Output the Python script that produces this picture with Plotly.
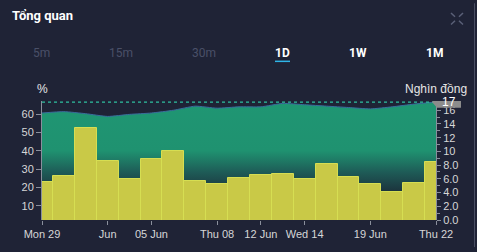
import plotly.graph_objects as go

# ---- data ----
x_idx = list(range(19))
tick_pos = [0, 3, 5, 8, 10, 12, 15, 18]
tick_labels = ["Mon 29", "Jun", "05 Jun", "Thu 08", "12 Jun", "Wed 14", "19 Jun", "Thu 22"]
pct_values = [23.2, 26.4, 52.3, 34.6, 24.6, 35.4, 39.7, 23.7, 21.7, 25.1,
              26.7, 27.2, 24.6, 32.7, 25.6, 21.7, 17.5, 22.2, 34.1]
price_values = [15.6, 15.8, 15.5, 15.1, 15.4, 15.6, 16.0, 16.6, 16.3, 16.5,
                16.5, 17.0, 16.8, 16.6, 16.4, 16.2, 16.5, 16.9, 17.2]
price_label = "17"
left_ticks = [10, 20, 30, 40, 50, 60]
right_ticks = [0, 2, 4, 6, 8, 10, 12, 14, 16]
right_ticktext = ["0.0", "2.0", "4.0", "6.0", "8.0", "10", "12", "14", "16"]
buttons = ["5m", "15m", "30m", "1D", "1W", "1M"]
button_px = [41, 121, 204, 282, 358, 434]
button_active = [False, False, False, True, True, True]

BG = "#1f2336"
W, H = 477, 252
L, R, T, B = 42, 436, 101, 224

def px(xp):
    return (xp - L) / (R - L)

def py(yp):
    return (B - yp) / (B - T)

fig = go.Figure()

fig.add_trace(go.Scatter(
    x=x_idx, y=price_values, yaxis="y", mode="lines",
    line=dict(color="#3a6c9c", width=1, shape="spline", smoothing=0.5),
    fill="tozeroy",
    fillgradient=dict(type="vertical", start=0, stop=17.2,
                      colorscale=[[0, "#1b2a36"], [0.25, "#1b2f3a"],
                                  [0.42, "#1e5a56"], [0.6, "#1f9270"], [1, "#1f9673"]]),
    hoverinfo="skip", showlegend=False,
))

fig.add_trace(go.Bar(
    x=x_idx, y=pct_values, yaxis="y2", width=1,
    marker=dict(color="#c9c947", line=dict(color="#d6de52", width=1)),
    hoverinfo="skip", showlegend=False,
))

tickfont = dict(family="Liberation Sans, Arial, sans-serif", size=11, color="#d6d6d6")

fig.update_layout(
    width=W, height=H,
    margin=dict(l=L, r=W - R, t=T, b=H - B, pad=0),
    paper_bgcolor=BG, plot_bgcolor=BG,
    bargap=0,
    xaxis=dict(range=[0, 18], tickmode="array", tickvals=tick_pos, ticktext=tick_labels,
               showgrid=False, zeroline=False, showline=False,
               ticks="outside", ticklen=4, tickcolor="#8a8f9c", tickfont=tickfont),
    yaxis=dict(side="right", range=[0, 17.35], tickmode="array", tickvals=right_ticks,
               ticktext=right_ticktext, showgrid=False, zeroline=False,
               showline=True, linecolor="#8a8f9c", linewidth=1,
               ticks="outside", ticklen=4, tickcolor="#8a8f9c", tickfont=tickfont,
               minor=dict(dtick=1, ticks="outside", ticklen=3, tickcolor="#8a8f9c")),
    yaxis2=dict(side="left", overlaying="y", range=[2.2, 67.2], tickmode="array",
                tickvals=left_ticks, showgrid=False, zeroline=False,
                showline=True, linecolor="#8a8f9c", linewidth=1,
                ticks="outside", ticklen=5, tickcolor="#8a8f9c", tickfont=tickfont),
)

# dotted last-price line
last_price = price_values[-1]
fig.add_shape(type="line", xref="paper", yref="y", x0=0, x1=1, y0=last_price, y1=last_price,
              line=dict(color="#2fc0a0", width=1.2, dash="dot"))

# price label marker (pentagon)
hh = 0.85
fig.add_shape(type="path", xref="paper", yref="y",
              path=f"M {px(432)},{last_price} L {px(437)},{last_price+hh} L {px(461)},{last_price+hh} "
                   f"L {px(461)},{last_price-hh} L {px(437)},{last_price-hh} Z",
              fillcolor="#8c8c8c", line=dict(width=0), layer="above")
fig.add_annotation(xref="paper", yref="y", x=px(449), y=last_price, text=price_label,
                   showarrow=False, font=dict(family="Liberation Sans, Arial", size=12, color="#ffffff"),
                   xanchor="center", yanchor="middle")

# axis unit labels
fig.add_annotation(xref="paper", yref="paper", x=px(42.5), y=py(89), text="%",
                   showarrow=False, font=dict(family="Liberation Sans, Arial", size=12, color="#e6e6e6"),
                   xanchor="center", yanchor="middle")
fig.add_annotation(xref="paper", yref="paper", x=px(436), y=py(89), text="Nghìn đồng",
                   showarrow=False, font=dict(family="Liberation Sans, Arial", size=12, color="#e6e6e6"),
                   xanchor="center", yanchor="middle")

# header
fig.add_annotation(xref="paper", yref="paper", x=px(10), y=py(13), text="<b>Tổng quan</b>",
                   showarrow=False, font=dict(family="Roboto, Liberation Sans", size=13, color="#ffffff"),
                   xanchor="left", yanchor="middle")
for lab, bx, act in zip(buttons, button_px, button_active):
    fig.add_annotation(xref="paper", yref="paper", x=px(bx), y=py(51.5),
                       text=f"<b>{lab}</b>" if act else lab, showarrow=False,
                       font=dict(family="Roboto, Liberation Sans", size=12,
                                 color="#ffffff" if act else "#4a5068"),
                       xanchor="center", yanchor="middle")
# underline for active 1D
fig.add_shape(type="line", xref="paper", yref="paper", x0=px(275), x1=px(290), y0=py(60), y1=py(60),
              line=dict(color="#2fb5e8", width=1.5))

# collapse icon
icol = "#5a6078"
for (x0, y0, x1, y1) in [(451, 10, 455, 14), (463, 10, 459, 14), (451, 22, 455, 18), (463, 22, 459, 18)]:
    fig.add_shape(type="line", xref="paper", yref="paper", x0=px(x0), y0=py(y0), x1=px(x1), y1=py(y1),
                  line=dict(color=icol, width=1.5))
# right border line
fig.add_shape(type="line", xref="paper", yref="paper", x0=px(474.5), x1=px(474.5), y0=py(0), y1=py(252),
              line=dict(color="#4a4f63", width=1))

fig.write_html("out.html")
